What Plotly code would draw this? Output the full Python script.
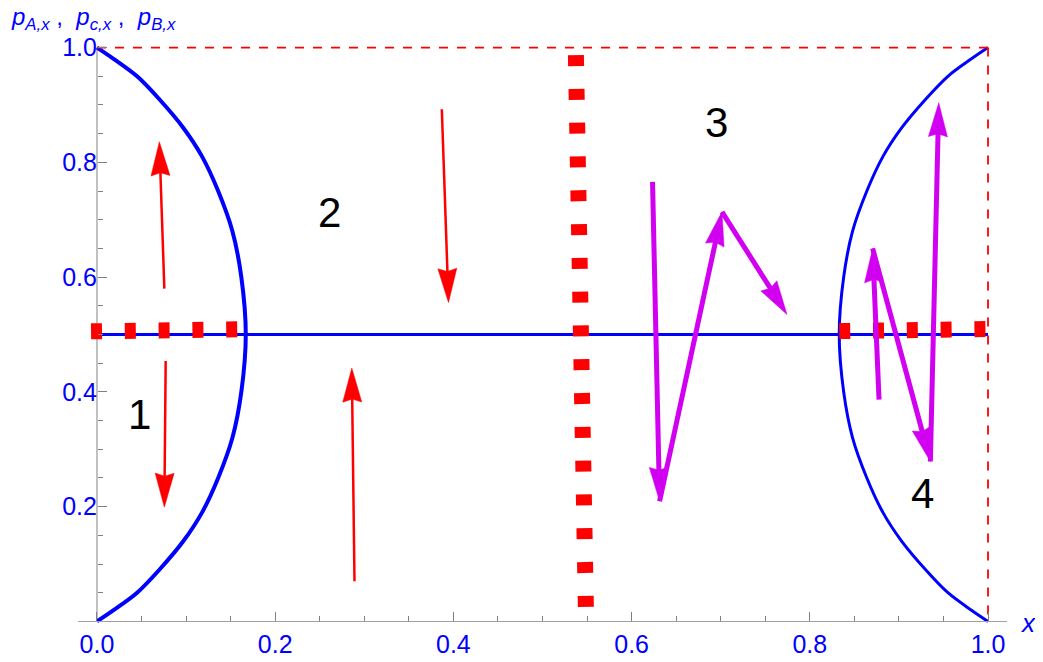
import plotly.graph_objects as go

# ---- data ----
# boundary arcs (y values shared, x for left and right arc)
arc_y = [0, 0.02, 0.05, 0.09, 0.14, 0.19, 0.25, 0.32, 0.40, 0.50,
         0.60, 0.68, 0.75, 0.81, 0.86, 0.91, 0.95, 0.98, 1.0]
arc_left_x = [0, 0.019, 0.045, 0.070, 0.097, 0.118, 0.136, 0.152, 0.162, 0.167,
              0.162, 0.152, 0.136, 0.118, 0.097, 0.070, 0.045, 0.019, 0]
arc_right_x = [1.0, 0.981, 0.955, 0.930, 0.903, 0.882, 0.864, 0.848, 0.838, 0.833,
               0.838, 0.848, 0.864, 0.882, 0.903, 0.930, 0.955, 0.981, 1.0]

# horizontal blue line
mid_x = [0, 1]
mid_y = [0.5, 0.5]

# thick red dotted lines
dot_left_x = [-0.0067, 0.158]
dot_left_y = [0.5055, 0.509]
dot_right_x = [0.833, 0.998]
dot_right_y = [0.506, 0.5095]
dot_vert_x = [0.5375, 0.5487]
dot_vert_y = [0.987, 0.022]

# thin red dashed border
border_top_x = [0, 1]
border_top_y = [1, 1]
border_right_x = [1, 1]
border_right_y = [1, 0]

# red arrows: tail -> tip
red_tail_x = [0.0756, 0.0771, 0.387, 0.289]
red_tail_y = [0.580, 0.454, 0.8925, 0.070]
red_tip_x = [0.070, 0.0756, 0.3945, 0.286]
red_tip_y = [0.836, 0.199, 0.5557, 0.4415]

# magenta arrow chains (each point is the tip of the previous arrow)
mag_a_x = [0.6235, 0.6314, 0.7014, 0.7744]
mag_a_y = [0.766, 0.2094, 0.7138, 0.5347]
mag_b_x = [0.8777, 0.8705, 0.9353, 0.9447]
mag_b_y = [0.3864, 0.650, 0.2787, 0.904]

# region numbers
region_text = ["1", "2", "3", "4"]
region_x = [0.0472, 0.2605, 0.695, 0.9264]
region_y = [0.3607, 0.713, 0.870, 0.2228]

x_ticks = [0, 0.2, 0.4, 0.6, 0.8, 1.0]
y_ticks = [0.2, 0.4, 0.6, 0.8, 1.0]

# ---- layout geometry (page body adds an 8px offset) ----
OFF = 8
W = 1043 - OFF
H = 662            # rendered area ends up ~8px shorter than asked
H_EFF = H - OFF
X_RANGE = [-0.0213, 1.0213]
Y_RANGE = [-0.015, 1.015]
PX_X = 890.6
PX_Y = 573.0
ML = 78 - OFF
MT = 39.1 - OFF
PLOT_W = PX_X * (X_RANGE[1] - X_RANGE[0])
PLOT_H = PX_Y * (Y_RANGE[1] - Y_RANGE[0])
MR = W - ML - PLOT_W
MB = H_EFF - MT - PLOT_H

BLUE = "#0000FF"
RED = "#FF0000"
MAGENTA = "#D200F0"
FONT = "Liberation Sans, Arial, sans-serif"

fig = go.Figure()


def line(x, y, color, width, dash=None, shape="linear"):
    fig.add_trace(go.Scatter(x=x, y=y, mode="lines", line_shape=shape,
                             line=dict(color=color, width=width, dash=dash),
                             hoverinfo="skip", showlegend=False))


def arrow(x0, y0, x1, y1, color, width, head_len=34, head_w=9.5, notch=3):
    dx = (x1 - x0) * PX_X
    dy = (y1 - y0) * PX_Y
    n = (dx * dx + dy * dy) ** 0.5
    ux, uy = dx / n, dy / n
    nx, ny = -uy, ux
    pts = [(0, 0),
           (-ux * head_len + nx * head_w, -uy * head_len + ny * head_w),
           (-ux * (head_len - notch), -uy * (head_len - notch)),
           (-ux * head_len - nx * head_w, -uy * head_len - ny * head_w),
           (0, 0)]
    hx = [x1 + p[0] / PX_X for p in pts]
    hy = [y1 + p[1] / PX_Y for p in pts]
    sx = x1 - ux * (head_len - notch - 1) / PX_X
    sy = y1 - uy * (head_len - notch - 1) / PX_Y
    line([x0, sx], [y0, sy], color, width)
    fig.add_trace(go.Scatter(x=hx, y=hy, mode="lines", fill="toself", fillcolor=color,
                             line=dict(color=color, width=0.5),
                             hoverinfo="skip", showlegend=False))


def paper_x(px):
    return (px - OFF - ML) / PLOT_W


def paper_y(py):
    return (MT + PLOT_H - (py - OFF)) / PLOT_H


# blue curves
line(mid_x, mid_y, BLUE, 3)
line(arc_left_x, arc_y, BLUE, 4, shape="spline")
line(arc_right_x, arc_y, BLUE, 3, shape="spline")

# red dashed border
line(border_top_x, border_top_y, RED, 1.8, dash="9px,9px")
line(border_right_x, border_right_y, RED, 1.8, dash="9px,9px")

# thick red dotted separators
for xs, ys in [(dot_left_x, dot_left_y), (dot_right_x, dot_right_y), (dot_vert_x, dot_vert_y)]:
    line(xs, ys, RED, 16, dash="11px,22.8px")

# red arrows
for i in range(len(red_tail_x)):
    arrow(red_tail_x[i], red_tail_y[i], red_tip_x[i], red_tip_y[i], RED, 2.5)

# magenta arrows
for cx, cy in [(mag_a_x, mag_a_y), (mag_b_x, mag_b_y)]:
    for i in range(len(cx) - 1):
        arrow(cx[i], cy[i], cx[i + 1], cy[i + 1], MAGENTA, 5)

# region numbers
for t, x, y in zip(region_text, region_x, region_y):
    fig.add_annotation(x=x, y=y, text=t, showarrow=False,
                       font=dict(family=FONT, size=42, color="black"))

# y axis line (only 0..1)
fig.add_shape(type="line", x0=0, x1=0, y0=0, y1=1, xref="x", yref="y",
              line=dict(color="#a0a0a0", width=1.3), layer="below")

y0_paper = (0 - Y_RANGE[0]) / (Y_RANGE[1] - Y_RANGE[0])
x0_paper = (0 - X_RANGE[0]) / (X_RANGE[1] - X_RANGE[0])

# axis titles
fig.add_annotation(xref="paper", yref="paper", x=paper_x(1028), y=paper_y(622),
                   text="<i>x</i>", showarrow=False, xanchor="center", yanchor="middle",
                   font=dict(family=FONT, size=26, color=BLUE))
fig.add_annotation(xref="paper", yref="paper", x=paper_x(9), y=paper_y(1),
                   text="<i>p</i><sub><i>A,x</i></sub> ,  <i>p</i><sub><i>c,x</i></sub> ,  "
                        "<i>p</i><sub><i>B,x</i></sub>",
                   showarrow=False, xanchor="left", yanchor="top",
                   font=dict(family=FONT, size=24, color=BLUE))

tick_font = dict(family=FONT, size=25, color=BLUE)

fig.update_layout(
    width=W, height=H,
    margin=dict(l=ML, r=MR, t=MT, b=MB),
    plot_bgcolor="white", paper_bgcolor="white",
    xaxis=dict(range=X_RANGE, anchor="free", position=y0_paper,
               showgrid=False, zeroline=False,
               showline=True, linecolor="#a0a0a0", linewidth=1.3,
               ticks="inside", ticklen=9, tickwidth=1, tickcolor="#808080",
               tickmode="array", tickvals=x_ticks, ticktext=[f"{v:.1f}" for v in x_ticks],
               minor=dict(ticks="inside", ticklen=5, tickwidth=1, tickcolor="#808080",
                          tickmode="array",
                          tickvals=[i * 0.05 for i in range(21) if i % 4 != 0],
                          showgrid=False),
               tickfont=tick_font),
    yaxis=dict(range=Y_RANGE, anchor="free", position=x0_paper,
               showgrid=False, zeroline=False, showline=False,
               ticks="inside", ticklen=9, tickwidth=1, tickcolor="#808080",
               tickmode="array", tickvals=y_ticks, ticktext=[f"{v:.1f}" for v in y_ticks],
               minor=dict(ticks="inside", ticklen=5, tickwidth=1, tickcolor="#808080",
                          tickmode="array",
                          tickvals=[i * 0.05 for i in range(1, 21) if i % 4 != 0],
                          showgrid=False),
               tickfont=tick_font),
)

fig.write_html("out.html")
